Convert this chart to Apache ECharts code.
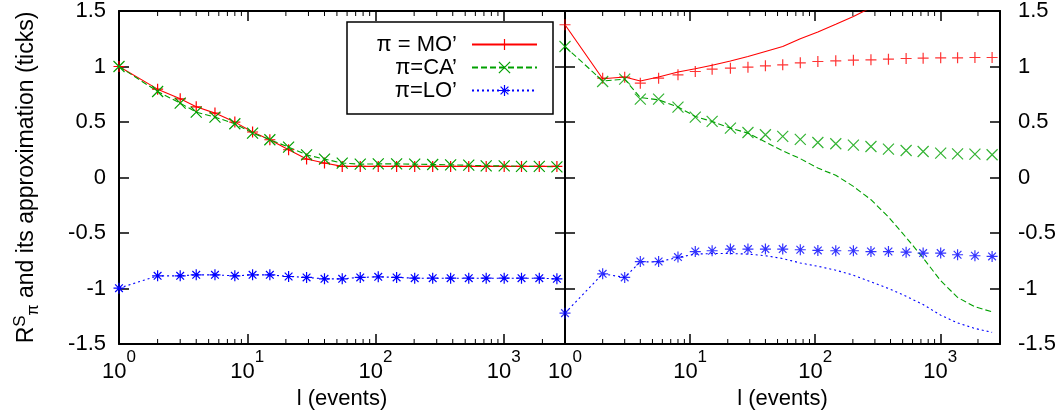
<!DOCTYPE html>
<html>
<head>
<meta charset="utf-8">
<script src="https://cdn.jsdelivr.net/npm/echarts@6/dist/echarts.min.js"></script>
<style>html,body{margin:0;padding:0;background:#fff}#c{width:1060px;height:420px}</style>
</head>
<body>
<div id="c"></div>
<script>
// ---- data ----
const lValues = [1, 2, 3, 4, 5.6, 8, 11, 15, 21, 29, 40, 55, 76, 105, 146, 202, 279, 385, 533, 729, 1007, 1374, 1891, 2594];
const seriesNames = ['π = MO’', 'π=CA’', 'π=LO’'];
// left panel
const leftMO = [1.0, 0.796, 0.709, 0.637, 0.58, 0.499, 0.41, 0.34, 0.25, 0.166, 0.13, 0.10, 0.10, 0.10, 0.10, 0.10, 0.10, 0.10, 0.10, 0.10, 0.10, 0.10, 0.10, 0.10];
const leftCA = [1.0, 0.775, 0.67, 0.589, 0.544, 0.484, 0.40, 0.34, 0.274, 0.204, 0.166, 0.13, 0.12, 0.123, 0.123, 0.12, 0.117, 0.114, 0.111, 0.105, 0.105, 0.10, 0.10, 0.096];
const leftLO = [-0.997, -0.886, -0.886, -0.877, -0.877, -0.886, -0.877, -0.877, -0.892, -0.9, -0.913, -0.913, -0.9, -0.895, -0.9, -0.907, -0.907, -0.907, -0.907, -0.907, -0.907, -0.907, -0.907, -0.913];
// right panel: measured points
const rightMOpts = [1.376, 0.895, 0.904, 0.85, 0.895, 0.925, 0.955, 0.976, 0.985, 0.994, 1.006, 1.015, 1.033, 1.045, 1.051, 1.057, 1.06, 1.066, 1.072, 1.075, 1.078, 1.078, 1.081, 1.081];
const rightCApts = [1.18, 0.865, 0.886, 0.706, 0.706, 0.634, 0.544, 0.505, 0.445, 0.405, 0.385, 0.37, 0.343, 0.315, 0.304, 0.292, 0.279, 0.256, 0.243, 0.234, 0.22, 0.213, 0.21, 0.205];
const rightLOpts = [-1.222, -0.868, -0.9, -0.757, -0.757, -0.717, -0.667, -0.66, -0.645, -0.645, -0.645, -0.645, -0.651, -0.657, -0.66, -0.66, -0.667, -0.667, -0.673, -0.681, -0.681, -0.696, -0.705, -0.711];
// right panel: approximations
const rightMOfit = [1.376, 0.89, 0.905, 0.87, 0.905, 0.95, 0.98, 1.012, 1.05, 1.09, 1.135, 1.18, 1.25, 1.31, 1.38, 1.45, 1.53];
const rightCAfit = [1.18, 0.87, 0.885, 0.72, 0.70, 0.635, 0.55, 0.505, 0.445, 0.40, 0.32, 0.24, 0.17, 0.085, 0.02, -0.08, -0.2, -0.355, -0.54, -0.725, -0.93, -1.08, -1.165, -1.21];
const rightLOfit = [-1.222, -0.868, -0.9, -0.76, -0.76, -0.72, -0.69, -0.685, -0.685, -0.69, -0.705, -0.73, -0.77, -0.80, -0.835, -0.88, -0.94, -1.0, -1.07, -1.145, -1.24, -1.31, -1.36, -1.395];
// axes
const xMin = 1, xMax = 3000;
const yMin = -1.5, yMax = 1.5, yStep = 0.5;
const minorTickValues = [2, 3, 4, 5, 6, 7, 8, 9, 20, 30, 40, 50, 60, 70, 80, 90, 200, 300, 400, 500, 600, 700, 800, 900, 2000];

// ---- styles ----
const FONT = 'Liberation Sans';
const RED = '#ff0000', GREEN = '#00a000', BLUE = '#0000ff';
const PLUS = 'path://M0,5L10,5M5,0L5,10';
const CROSS = 'path://M0,0L10,10M10,0L0,10';
const STAR = 'path://M0,5L10,5M5,0L5,10M1.5,1.5L8.5,8.5M8.5,1.5L1.5,8.5';
const styles = [
  {color: RED, dash: 'solid', sym: PLUS},
  {color: GREEN, dash: [6, 3], sym: CROSS},
  {color: BLUE, dash: [2, 3], sym: STAR}
];

const pairs = (ys) => ys.map((y, i) => [lValues[i], y]);

function powLabel(v) {
  const e = Math.log10(v);
  if (Math.abs(e - Math.round(e)) > 1e-6) return '';
  return '{b|10}{s|' + Math.round(e) + '}';
}
const xLabelRich = {
  b: {fontFamily: FONT, fontSize: 22, color: '#000', lineHeight: 34, verticalAlign: 'bottom'},
  s: {fontFamily: FONT, fontSize: 17, color: '#000', lineHeight: 18, verticalAlign: 'top'}
};
const axisLine = {show: true, onZero: false, lineStyle: {color: '#000', width: 2}};
const majorTick = {show: true, inside: true, length: 10, lineStyle: {color: '#000', width: 1.5}};

function xAxisDef(grid, pos, labels) {
  return {
    type: 'log', logBase: 10, gridIndex: grid, position: pos, min: xMin, max: xMax,
    splitNumber: 4, axisLine: axisLine, axisTick: majorTick, splitLine: {show: false},
    axisLabel: labels ? {show: true, formatter: powLabel, rich: xLabelRich, margin: 5,
      showMinLabel: true, showMaxLabel: true, hideOverlap: false} : {show: false},
    name: labels ? 'l (events)' : '', nameLocation: 'middle', nameGap: 36,
    nameTextStyle: {fontFamily: FONT, fontSize: 22, color: '#000'}
  };
}
function yAxisDef(grid, pos, labels, margin) {
  return {
    type: 'value', gridIndex: grid, position: pos, min: yMin, max: yMax, interval: yStep,
    axisLine: axisLine, axisTick: majorTick, splitLine: {show: false},
    axisLabel: labels ? {show: true, fontFamily: FONT, fontSize: 22, color: '#000', margin: margin,
      align: pos === 'left' ? 'right' : 'left'} : {show: false}
  };
}

function minorTicks(params, api) {
  const x = api.coord([api.value(0), 0])[0];
  const cs = params.coordSys;
  const yb = cs.y + cs.height, yt = cs.y;
  return {type: 'group', children: [
    {type: 'line', shape: {x1: x, y1: yb, x2: x, y2: yb - 5}, style: {stroke: '#000', lineWidth: 1}},
    {type: 'line', shape: {x1: x, y1: yt, x2: x, y2: yt + 5}, style: {stroke: '#000', lineWidth: 1}}
  ]};
}

const series = [];
const leftData = [leftMO, leftCA, leftLO];
const rightPts = [rightMOpts, rightCApts, rightLOpts];
const rightFit = [rightMOfit, rightCAfit, rightLOfit];
seriesNames.forEach((n, k) => {
  const st = styles[k];
  series.push({
    name: n, type: 'line', xAxisIndex: 0, yAxisIndex: 0, data: pairs(leftData[k]),
    symbol: st.sym, symbolSize: 11, showSymbol: true, showAllSymbol: true, silent: true,
    lineStyle: {color: st.color, width: 1.1, type: st.dash},
    itemStyle: {color: st.color, borderColor: st.color, borderWidth: 1.2},
    emphasis: {disabled: true}, animation: false, z: 3
  });
});
seriesNames.forEach((n, k) => {
  const st = styles[k];
  series.push({
    name: n, type: 'line', xAxisIndex: 2, yAxisIndex: 2, data: pairs(rightFit[k]),
    symbol: 'none', showSymbol: false, silent: true, clip: true,
    lineStyle: {color: st.color, width: 1.1, type: st.dash},
    itemStyle: {color: st.color},
    emphasis: {disabled: true}, animation: false, z: 3
  });
  series.push({
    name: n, type: 'scatter', xAxisIndex: 2, yAxisIndex: 2, data: pairs(rightPts[k]),
    symbol: st.sym, symbolSize: 11, silent: true,
    itemStyle: {color: st.color, borderColor: st.color, borderWidth: 1.2},
    emphasis: {disabled: true}, animation: false, z: 3
  });
});
[[0, 0], [2, 2]].forEach(([xi, yi]) => {
  series.push({
    type: 'custom', xAxisIndex: xi, yAxisIndex: yi, silent: true, animation: false,
    data: minorTickValues.map(v => [v, 0]), renderItem: minorTicks, clip: false, z: 4
  });
});

const chart = echarts.init(document.getElementById('c'), null, {renderer: 'canvas'});
chart.setOption({
  backgroundColor: '#ffffff',
  animation: false,
  grid: [
    {left: 119, top: 11, width: 446, height: 333, containLabel: false},
    {left: 565, top: 11, width: 435, height: 333, containLabel: false}
  ],
  xAxis: [xAxisDef(0, 'bottom', true), xAxisDef(0, 'top', false), xAxisDef(1, 'bottom', true), xAxisDef(1, 'top', false)],
  yAxis: [
    Object.assign(yAxisDef(0, 'left', true, 13), {
      name: '{r|R}{sup|S}{sub|π}{r| and its approximation (ticks)}',
      nameLocation: 'middle', nameRotate: 90, nameGap: 77,
      nameTextStyle: {fontFamily: FONT, fontSize: 23, color: '#000', rich: {
        r: {fontFamily: FONT, fontSize: 23, color: '#000', lineHeight: 30, verticalAlign: 'middle'},
        sup: {fontFamily: FONT, fontSize: 17, color: '#000', lineHeight: 20, verticalAlign: 'top'},
        sub: {fontFamily: FONT, fontSize: 16, color: '#000', lineHeight: 12, verticalAlign: 'bottom'}
      }}
    }),
    yAxisDef(0, 'right', false),
    yAxisDef(1, 'right', true, 18),
    yAxisDef(1, 'left', false)
  ],
  legend: {
    show: true, orient: 'vertical', align: 'right', left: 347, top: 22,
    padding: [11, 15, 12, 10], itemGap: 0, itemWidth: 65, itemHeight: 14,
    borderColor: '#000', borderWidth: 1.5, backgroundColor: '#ffffff', borderRadius: 0,
    selectedMode: false, inactiveColor: '#000',
    itemStyle: {borderWidth: 1.2},
    formatter: n => '{t|' + n + '}',
    textStyle: {fontFamily: FONT, fontSize: 22, color: '#000', lineHeight: 23,
      rich: {t: {fontFamily: FONT, fontSize: 22, color: '#000', lineHeight: 23, width: 100, align: 'right', padding: [0, 10, 0, 0]}}},
    data: seriesNames.map((n, k) => ({name: n, itemStyle: {color: styles[k].color, borderColor: styles[k].color, borderWidth: 1.2}}))
  },
  series: series
});
</script>
</body>
</html>
